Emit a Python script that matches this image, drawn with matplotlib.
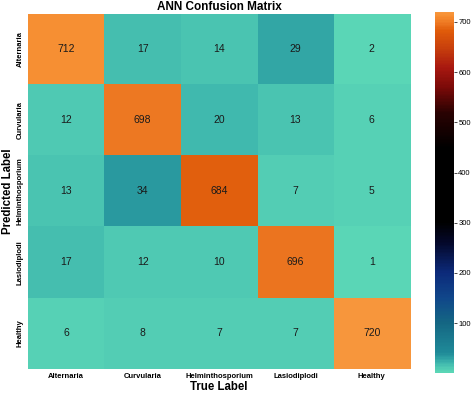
import numpy as np
import matplotlib
matplotlib.use("Agg")
import matplotlib.pyplot as plt
from matplotlib.colors import LinearSegmentedColormap, Normalize

plt.rcParams['font.family'] = ['Liberation Sans', 'DejaVu Sans']

# confusion matrix data (rows = predicted, cols = true)
classes = ["Alternaria", "Curvularia", "Helminthosporium", "Lasiodiplodi", "Healthy"]
cm = np.array([
    [712, 17, 14, 29, 2],
    [12, 698, 20, 13, 6],
    [13, 34, 684, 7, 5],
    [17, 12, 10, 696, 1],
    [6, 8, 7, 7, 720],
])
cbar_ticks = [100, 200, 300, 400, 500, 600, 700]

vmin, vmax = 1, 720

# custom icefire-like colormap anchored at values
nodes = [
    (1, "#5ad6b6"),
    (10, "#4fc9b3"),
    (20, "#3db5ad"),
    (30, "#2c9ea2"),
    (40, "#1f8a98"),
    (100, "#146683"),
    (150, "#10468a"),
    (200, "#0c2a7a"),
    (260, "#04082a"),
    (300, "#000000"),
    (450, "#000000"),
    (520, "#2a0202"),
    (570, "#7a0a08"),
    (610, "#a81810"),
    (650, "#c8400c"),
    (684, "#e05c0a"),
    (698, "#ec7520"),
    (712, "#f68d30"),
    (720, "#f7963c"),
]
cmap = LinearSegmentedColormap.from_list(
    "custom", [((v - vmin) / (vmax - vmin), c) for v, c in nodes])
norm = Normalize(vmin=vmin, vmax=vmax)

fig = plt.figure(figsize=(4.74, 3.95), dpi=100)
ax = fig.add_axes([0.059, 0.066, 0.806, 0.899])
cax = fig.add_axes([0.918, 0.056, 0.040, 0.914])

im = ax.imshow(cm, cmap=cmap, norm=norm, aspect='auto')

for i in range(cm.shape[0]):
    for j in range(cm.shape[1]):
        ax.text(j, i, str(cm[i, j]), ha='center', va='center', fontsize=7.5, color='#1a1a1a')

ax.set_xticks(range(len(classes)))
ax.set_xticklabels(classes, fontsize=5.5, fontweight='bold')
ax.set_yticks(range(len(classes)))
ax.set_yticklabels(classes, fontsize=5.5, fontweight='bold', rotation=90, va='center')
ax.tick_params(length=0, pad=3)
for s in ax.spines.values():
    s.set_visible(False)

ax.set_xlabel("True Label", fontsize=8.3, fontweight='bold', labelpad=1)
ax.set_ylabel("Predicted Label", fontsize=8.3, fontweight='bold', labelpad=2)
ax.set_title("ANN Confusion Matrix", fontsize=8.5, fontweight='bold', pad=3)

cb = fig.colorbar(im, cax=cax, ticks=cbar_ticks)
cb.outline.set_visible(False)
cb.ax.tick_params(labelsize=5.5, length=2, width=0.5, pad=1)

fig.savefig("out.png", dpi=100)
